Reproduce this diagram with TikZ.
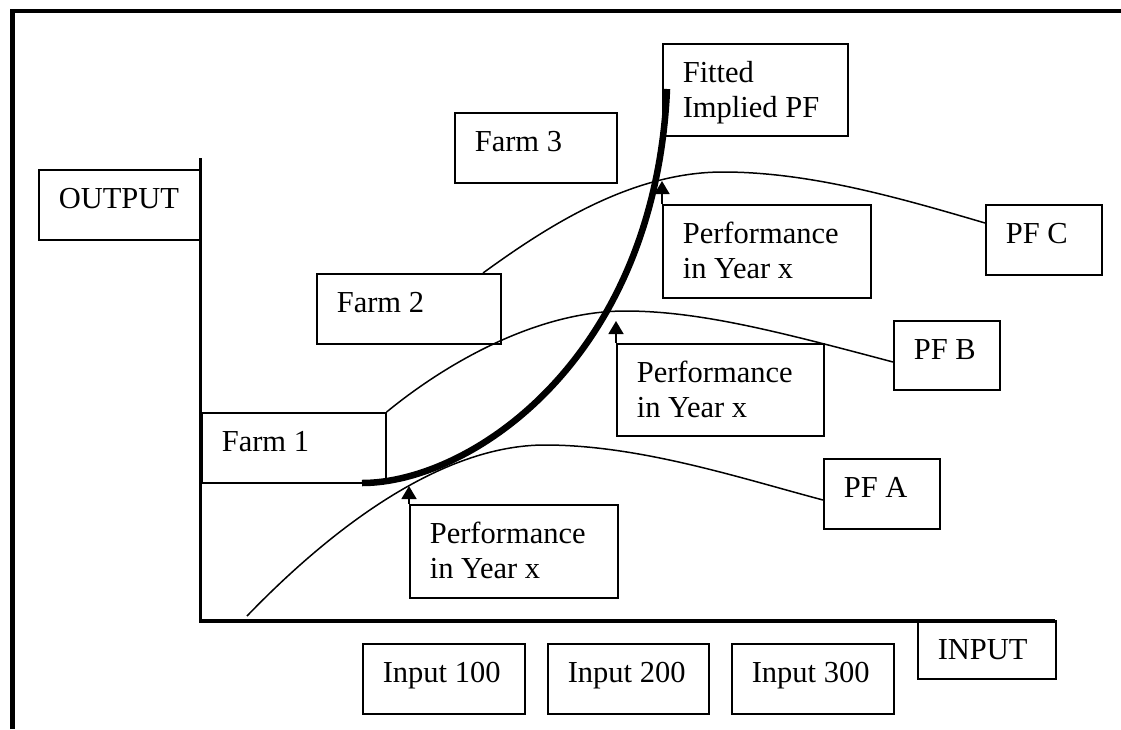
\documentclass[tikz,border=0pt]{standalone}
\usepackage{fontspec}
\setmainfont{Liberation Serif}
\usetikzlibrary{arrows.meta}
\begin{document}
\begin{tikzpicture}[x=1pt,y=-1pt,
  box/.style={draw, line width=1.6pt, inner xsep=20pt, inner ysep=0pt,
    anchor=north west, align=flush left, text height=39pt,
    font=\fontsize{30.5pt}{35pt}\selectfont},
  frameline/.style={line width=4.6pt},
  axisline/.style={line width=3.8pt},
  pfcurve/.style={line width=1.5pt},
  fitcurve/.style={line width=6.5pt},
  pointer/.style={line width=1.6pt, -{Triangle[length=13pt,width=15pt]}}]
\useasboundingbox (0,0) rectangle (1121,729);
% frame
\draw[frameline] (12.5,729) -- (12.5,11) -- (1121,11);
% axes
\coordinate (ytop) at (200.5,158);
\coordinate (origin) at (200.5,621);
\coordinate (xend) at (1055,621);
\draw[axisline] (ytop) -- (origin) -- (xend);
% boxes
\node[box, text width=122pt, text depth=31pt] (output) at (38,169) {OUTPUT};
\node[box, text width=144pt, text depth=31pt] (farm1) at (201,412) {Farm 1};
\node[box, text width=144pt, text depth=31pt] (farm2) at (316,273) {Farm 2};
\node[box, text width=122pt, text depth=31pt] (farm3) at (454,112) {Farm 3};
\node[box, text width=145pt, text depth=53pt] (fitted) at (662,43) {Fitted\\Implied PF};
\node[box, text width=168pt, text depth=54pt] (perfC) at (662,204) {Performance\\in Year x};
\node[box, text width=167pt, text depth=53pt] (perfB) at (616,343) {Performance\\in Year x};
\node[box, text width=168pt, text depth=54pt] (perfA) at (409,504) {Performance\\in Year x};
\node[box, text width=76pt, text depth=31pt] (pfc) at (985,204) {PF C};
\node[box, text width=66pt, text depth=30pt] (pfb) at (893,320) {PF B};
\node[box, text width=76pt, text depth=31pt] (pfa) at (823,458) {PF A};
\node[box, text width=122pt, text depth=31pt] (in100) at (362,643) {Input 100};
\node[box, text width=121pt, text depth=31pt] (in200) at (547,643) {Input 200};
\node[box, text width=122pt, text depth=31pt] (in300) at (731,643) {Input 300};
\node[box, text width=98pt, text depth=19pt] (input) at (917,620) {INPUT};
% curve end points
\coordinate (aStart) at (247,616);
\coordinate (aPeak) at (545,445);
\coordinate (aEnd) at (823,500);
\coordinate (bPeak) at (625,311);
\coordinate (bEnd) at (893,362);
\coordinate (cStart) at (483,273);
\coordinate (cPeak) at (723,172);
\coordinate (cEnd) at (985,223);
\coordinate (fStart) at (362,483);
\coordinate (fEnd) at (667,89);
\coordinate (tipA) at (409,486);
\coordinate (tipB) at (616,321);
\coordinate (tipC) at (662,181);
% production functions
\draw[pfcurve] (aStart) .. controls (330,530) and (440,445) .. (aPeak)
  .. controls (640,445) and (740,478) .. (aEnd);
\draw[pfcurve] (farm1.north east) .. controls (450,360) and (540,311) .. (bPeak)
  .. controls (700,311) and (780,332) .. (bEnd);
\draw[pfcurve] (cStart) .. controls (545,228) and (630,172) .. (cPeak)
  .. controls (810,172) and (900,198) .. (cEnd);
% fitted implied PF
\draw[fitcurve] (fStart) .. controls (470,483) and (655,360) .. (fEnd);
% pointers
\draw[pointer] (perfA.north west) -- (tipA);
\draw[pointer] (perfB.north west) -- (tipB);
\draw[pointer] (perfC.north west) -- (tipC);
\end{tikzpicture}
\end{document}
